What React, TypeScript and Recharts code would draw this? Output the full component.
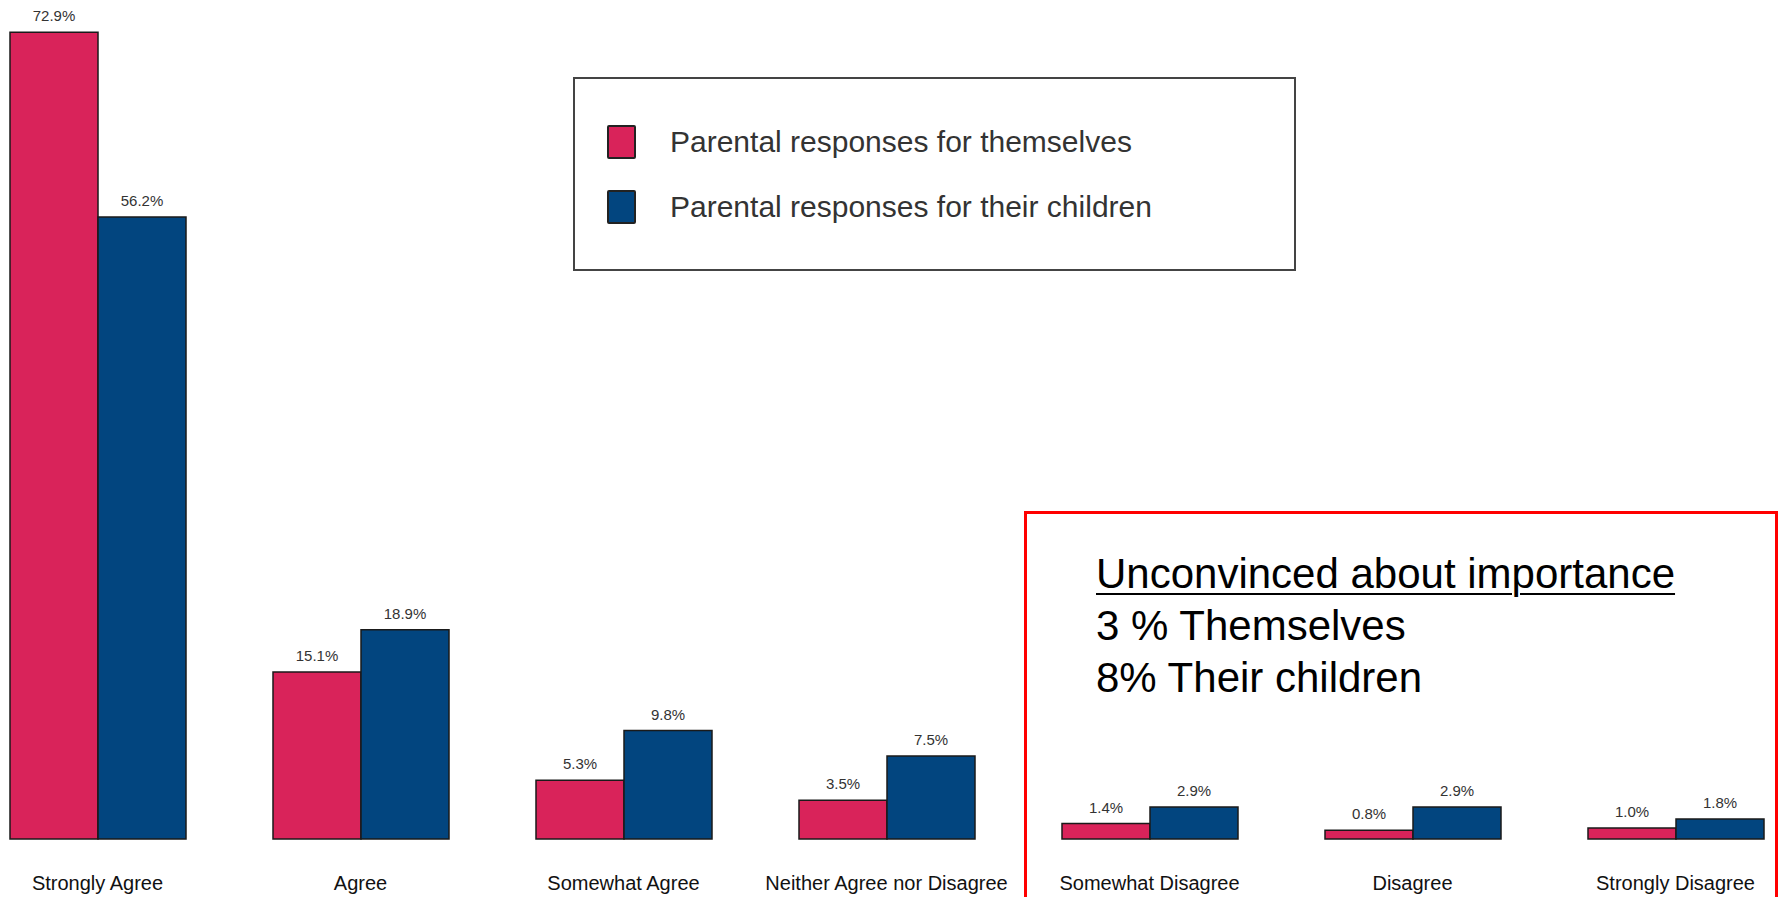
import { BarChart, Bar, XAxis, YAxis, Legend, LabelList } from "recharts";

const categories = [
  "Strongly Agree",
  "Agree",
  "Somewhat Agree",
  "Neither Agree nor Disagree",
  "Somewhat Disagree",
  "Disagree",
  "Strongly Disagree",
];
const themselves = [72.9, 15.1, 5.3, 3.5, 1.4, 0.8, 1.0];
const children = [56.2, 18.9, 9.8, 7.5, 2.9, 2.9, 1.8];
const seriesNames = ["Parental responses for themselves", "Parental responses for their children"];
const noteLines = ["Unconvinced about importance", "3 % Themselves", "8% Their children"];

const PINK = "#d9235a";
const BLUE = "#02457f";
const FONT = "'Liberation Sans', Arial, Helvetica, sans-serif";

const data = categories.map((c, i) => ({ name: c, themselves: themselves[i], children: children[i] }));

const pct = (v: any) => `${Number(v).toFixed(1)}%`;

function Tick({ x, y, payload }: any) {
  return (
    <text x={x} y={y} dy={43} textAnchor="middle" fontSize={20} fill="#111" fontFamily={FONT}>
      {payload.value}
    </text>
  );
}

function LegendBox() {
  const colors = [PINK, BLUE];
  return (
    <div
      style={{
        boxSizing: "border-box",
        width: 723,
        height: 194,
        border: "2px solid #444",
        background: "#fff",
        paddingTop: 46,
        paddingLeft: 32,
        fontFamily: FONT,
      }}
    >
      {seriesNames.map((n, i) => (
        <div key={n} style={{ display: "flex", alignItems: "center", height: 34, marginBottom: 31 }}>
          <div
            style={{
              boxSizing: "border-box",
              width: 29,
              height: 34,
              background: colors[i],
              border: "2px solid #222",
              borderRadius: 2,
            }}
          />
          <span style={{ marginLeft: 34, fontSize: 30, lineHeight: "34px", color: "#333" }}>{n}</span>
        </div>
      ))}
    </div>
  );
}

export default function App() {
  return (
    <div style={{ position: "absolute", left: 0, top: 0, width: 1781, height: 897, overflow: "hidden", background: "#fff" }}>
      <div style={{ position: "absolute", left: -34, top: 0 }}>
        <BarChart
          width={1841}
          height={897}
          data={data}
          margin={{ top: 9, right: 0, bottom: 0, left: 0 }}
          barCategoryGap={44}
          barGap={0}
        >
          <XAxis dataKey="name" height={58} axisLine={false} tickLine={false} tick={<Tick />} interval={0} />
          <YAxis hide domain={[0, 75]} />
          <Legend
            layout="horizontal"
            verticalAlign="middle"
            align="center"
            wrapperStyle={{ position: "absolute", left: 607, top: 77, width: 723, height: 194 }}
            content={() => <LegendBox />}
          />
          <Bar dataKey="themselves" fill={PINK} stroke="#1a1a1a" strokeWidth={1.5} isAnimationActive={false}>
            <LabelList dataKey="themselves" position="top" offset={11} formatter={pct} fontSize={15} fill="#333" fontFamily={FONT} />
          </Bar>
          <Bar dataKey="children" fill={BLUE} stroke="#1a1a1a" strokeWidth={1.5} isAnimationActive={false}>
            <LabelList dataKey="children" position="top" offset={11} formatter={pct} fontSize={15} fill="#333" fontFamily={FONT} />
          </Bar>
        </BarChart>
      </div>
      <div
        style={{
          position: "absolute",
          left: 1024,
          top: 511,
          width: 754,
          height: 420,
          boxSizing: "border-box",
          border: "3px solid #ff0000",
          paddingTop: 34,
          paddingLeft: 69,
          fontFamily: FONT,
          fontSize: 42,
          lineHeight: "52px",
          color: "#000",
        }}
      >
        {noteLines.map((t, i) => (
          <div
            key={t}
            style={i === 0 ? { textDecoration: "underline", textDecorationThickness: 2, textUnderlineOffset: 5 } : undefined}
          >
            {t}
          </div>
        ))}
      </div>
    </div>
  );
}
